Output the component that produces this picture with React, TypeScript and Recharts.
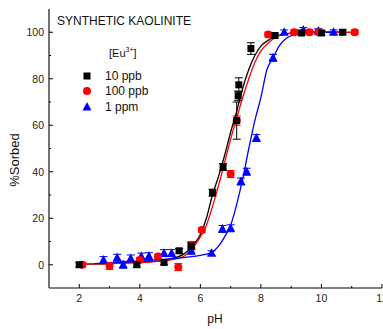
import React from "react";
import {
  ComposedChart,
  Scatter,
  Line,
  XAxis,
  YAxis,
  ErrorBar,
} from "recharts";

// measured points: pH, % sorbed, error
const ph10ppb = [2.0, 3.9, 4.8, 5.3, 5.7, 6.4, 6.75, 7.2, 7.25, 7.27, 7.67, 8.46, 9.34, 10.0, 10.7];
const sorbed10ppb = [0, 0, 1, 6, 8, 31, 42, 62, 72.7, 77.4, 93, 98.6, 99.7, 99.7, 100];
const err10ppb = [1, 1, 1, 1, 1.5, 1.5, 1.5, 8, 2, 3, 2.5, 1, 1, 1, 1];

const ph100ppb = [2.1, 3.0, 4.0, 4.6, 5.27, 5.7, 6.05, 7.0, 7.2, 8.24, 9.1, 9.6, 9.9, 11.1];
const sorbed100ppb = [0, -0.5, 2, 3.5, -1, 8.5, 15, 39, 62, 99, 100, 100, 100, 100];
const err100ppb = [1, 1.5, 1, 1, 1.5, 1.5, 1, 1.5, 2, 1, 1, 1, 1, 1];

const ph1ppm = [2.8, 3.25, 3.45, 3.7, 4.05, 4.3, 4.8, 5.05, 5.7, 6.37, 6.73, 7.0, 7.34, 7.53, 7.85, 8.4, 8.77, 9.4, 9.9, 10.4];
const sorbed1ppm = [2, 3, 0, 2.7, 3.5, 3.7, 5, 5, 6, 5, 15.4, 15.7, 35.8, 40, 54.5, 89, 100, 101, 100.5, 100];
const err1ppm = [1.5, 1.5, 1.5, 1.5, 1.5, 1.5, 1.5, 1.5, 1.5, 1, 1.5, 1.5, 1.5, 1.5, 1.5, 1.5, 1, 1, 1, 1];

// fitted curves
const fitPh10ppb = [2, 3, 4, 4.5, 5, 5.5, 5.8, 6, 6.2, 6.4, 6.6, 6.8, 7.0, 7.2, 7.4, 7.6, 7.8, 8.0, 8.3, 8.6, 9, 9.5, 10, 10.7];
const fit10ppb = [0.3, 0.5, 1, 1.5, 2.5, 5, 9, 13, 20, 30, 38, 47, 57, 66, 76, 84, 90, 94, 97, 98.8, 99.6, 100, 100, 100];

const fitPh100ppb = [2, 3, 4, 5, 5.5, 5.8, 6, 6.2, 6.4, 6.6, 6.8, 7.0, 7.2, 7.4, 7.6, 7.8, 8.0, 8.3, 8.6, 9, 9.5, 10, 11.1];
const fit100ppb = [0.3, 0.5, 1, 2, 4, 8, 12, 17, 25, 34, 44, 54, 63, 72, 80, 87, 92, 96, 98.5, 99.6, 100, 100, 100];

const fitPh1ppm = [2.5, 3, 4, 5, 5.5, 6, 6.4, 6.6, 6.8, 7.0, 7.2, 7.4, 7.6, 7.8, 8.0, 8.2, 8.4, 8.6, 8.8, 9.0, 9.5, 10, 10.5];
const fit1ppm = [0.5, 0.8, 1.5, 2.5, 3.2, 4, 5.5, 8, 12, 17, 26, 37, 50, 62, 72, 84, 89, 94, 97, 98.5, 99.7, 100, 100];

const xTicks = [2, 3, 4, 5, 6, 7, 8, 9, 10, 11, 12];
const yTicks = [0, 10, 20, 30, 40, 50, 60, 70, 80, 90, 100];

const toPoints = (xs: number[], ys: number[], es?: number[]) =>
  xs.map((x, i) => ({ x, y: ys[i], err: es ? es[i] : 0 }));

const FONT = "'Liberation Sans', Arial, sans-serif";

const Square = ({ cx, cy }: any) => (
  <rect x={cx - 3.5} y={cy - 3.5} width={7} height={7} fill="#000" />
);
const Dot = ({ cx, cy }: any) => <circle cx={cx} cy={cy} r={4} fill="#ff0000" />;
const Tri = ({ cx, cy }: any) => (
  <polygon
    points={`${cx},${cy - 5} ${cx - 4.5},${cy + 3.5} ${cx + 4.5},${cy + 3.5}`}
    fill="#0000ff"
  />
);

const BottomTick = ({ x, y, payload }: any) => {
  const major = payload.value % 2 === 0;
  return (
    <g>
      <line x1={x} x2={x} y1={y} y2={y - (major ? 4 : 2)} stroke="#000" />
      {major && (
        <text x={x} y={y + 10} textAnchor="middle" dominantBaseline="central" fontSize={10.5} fontFamily={FONT} fill="#222">
          {payload.value}
        </text>
      )}
    </g>
  );
};

const TopTick = ({ x, y, payload }: any) => {
  const major = payload.value % 2 === 0;
  return <line x1={x} x2={x} y1={y} y2={y + (major ? 4 : 2)} stroke="#000" />;
};

const LeftTick = ({ x, y, payload }: any) => {
  const major = payload.value % 20 === 0;
  return (
    <g>
      <line x1={x} x2={x + (major ? 4 : 2)} y1={y} y2={y} stroke="#000" />
      {major && (
        <text x={x - 5} y={y} textAnchor="end" dominantBaseline="central" fontSize={10.5} fontFamily={FONT} fill="#222">
          {payload.value}
        </text>
      )}
    </g>
  );
};

export default function App() {
  return (
    <div style={{ position: "absolute", left: 0, top: 0, width: 383, height: 329, background: "#fff" }}>
      <ComposedChart width={383} height={329} margin={{ top: 9, right: 1, bottom: 0, left: 0 }}>
        <XAxis
          xAxisId="b"
          type="number"
          dataKey="x"
          domain={[1, 12]}
          ticks={xTicks}
          interval={0}
          height={41}
          tickSize={0}
          tickMargin={0}
          tickLine={false}
          tick={<BottomTick />}
          stroke="#000"
          allowDataOverflow
        />
        <XAxis
          xAxisId="t"
          orientation="top"
          type="number"
          dataKey="x"
          domain={[1, 12]}
          ticks={xTicks}
          interval={0}
          height={0}
          tickSize={0}
          tickMargin={0}
          tickLine={false}
          tick={<TopTick />}
          stroke="#000"
          allowDataOverflow
        />
        <YAxis
          yAxisId="l"
          type="number"
          domain={[-10, 110]}
          ticks={yTicks}
          interval={0}
          width={49}
          tickSize={0}
          tickMargin={0}
          tickLine={false}
          tick={<LeftTick />}
          stroke="#444"
          strokeWidth={1.5}
          allowDataOverflow
        />
        <YAxis yAxisId="r" orientation="right" type="number" domain={[-10, 110]} width={0} tick={false} tickLine={false} stroke="#000" />

        <Scatter xAxisId="b" yAxisId="l" data={toPoints(ph1ppm, sorbed1ppm, err1ppm)} dataKey="y" shape={<Tri />} isAnimationActive={false}>
          <ErrorBar dataKey="err" direction="y" width={4} stroke="#0000ff" strokeWidth={1} isAnimationActive={false} />
        </Scatter>
        <Scatter xAxisId="b" yAxisId="l" data={toPoints(ph100ppb, sorbed100ppb, err100ppb)} dataKey="y" shape={<Dot />} isAnimationActive={false}>
          <ErrorBar dataKey="err" direction="y" width={4} stroke="#ff0000" strokeWidth={1} isAnimationActive={false} />
        </Scatter>
        <Scatter xAxisId="b" yAxisId="l" data={toPoints(ph10ppb, sorbed10ppb, err10ppb)} dataKey="y" shape={<Square />} isAnimationActive={false}>
          <ErrorBar dataKey="err" direction="y" width={4} stroke="#000" strokeWidth={1} isAnimationActive={false} />
        </Scatter>

        <Line xAxisId="b" yAxisId="l" data={toPoints(fitPh10ppb, fit10ppb)} dataKey="y" type="monotone" stroke="#000" strokeWidth={1.3} dot={false} isAnimationActive={false} />
        <Line xAxisId="b" yAxisId="l" data={toPoints(fitPh100ppb, fit100ppb)} dataKey="y" type="monotone" stroke="#ff0000" strokeWidth={1.3} dot={false} isAnimationActive={false} />
        <Line xAxisId="b" yAxisId="l" data={toPoints(fitPh1ppm, fit1ppm)} dataKey="y" type="monotone" stroke="#0000ff" strokeWidth={1.3} dot={false} isAnimationActive={false} />
      </ComposedChart>

      <div style={{ position: "absolute", left: 57, top: 13, fontSize: 12, lineHeight: "16px", fontFamily: FONT, color: "#111", whiteSpace: "nowrap" }}>
        SYNTHETIC KAOLINITE
      </div>
      <div style={{ position: "absolute", left: 109, top: 45, fontSize: 11, lineHeight: "16px", fontFamily: FONT, color: "#111", whiteSpace: "nowrap" }}>
        [Eu<sup style={{ fontSize: 7, verticalAlign: "top", lineHeight: "10px" }}>3+</sup>]
      </div>
      {[
        { label: "10 ppb", y: 76, shape: "square" },
        { label: "100 ppb", y: 91, shape: "circle" },
        { label: "1 ppm", y: 107, shape: "triangle" },
      ].map((e) => (
        <div key={e.label}>
          <svg style={{ position: "absolute", left: 81, top: e.y - 6 }} width={12} height={12}>
            {e.shape === "square" && <rect x={2.5} y={2.5} width={7} height={7} fill="#000" />}
            {e.shape === "circle" && <circle cx={6} cy={6} r={4} fill="#ff0000" />}
            {e.shape === "triangle" && <polygon points="6,1 1.5,9.5 10.5,9.5" fill="#0000ff" />}
          </svg>
          <div style={{ position: "absolute", left: 105, top: e.y - 8, fontSize: 12, lineHeight: "16px", fontFamily: FONT, color: "#111", whiteSpace: "nowrap" }}>
            {e.label}
          </div>
        </div>
      ))}
      <div style={{ position: "absolute", left: 14, top: 160, width: 0, height: 0 }}>
        <div style={{ position: "absolute", transform: "translate(-50%, -50%) rotate(-90deg)", fontSize: 13, fontFamily: FONT, color: "#111", whiteSpace: "nowrap" }}>
          %Sorbed
        </div>
      </div>
      <div style={{ position: "absolute", left: 215, top: 319, width: 0, height: 0 }}>
        <div style={{ position: "absolute", transform: "translate(-50%, -50%)", fontSize: 12, fontFamily: FONT, color: "#111", whiteSpace: "nowrap" }}>
          pH
        </div>
      </div>
    </div>
  );
}
